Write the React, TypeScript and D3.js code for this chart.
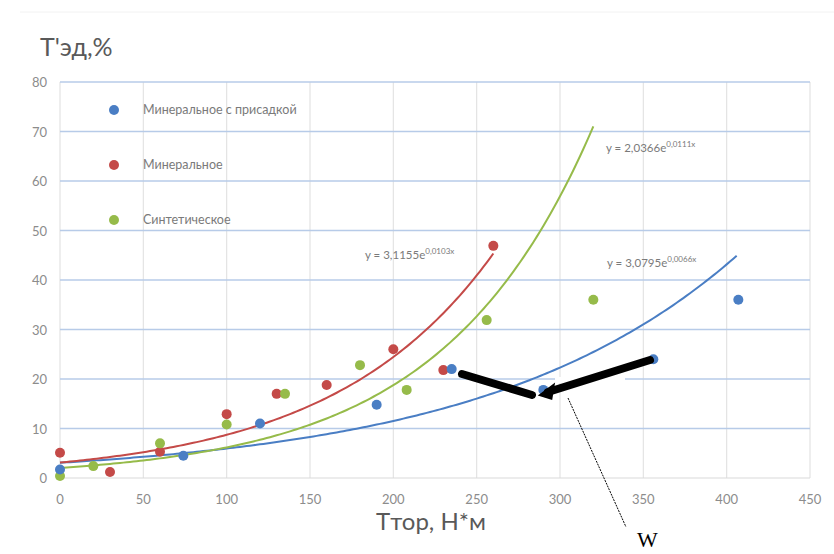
import * as React from "react";
import * as d3 from "d3";

// Минеральное с присадкой
const blueX = [0, 74, 120, 190, 235, 290, 356, 407];
const blueY = [1.7, 4.5, 11, 14.8, 22, 17.8, 24, 36];
// Минеральное
const redX = [0, 30, 60, 100, 130, 160, 200, 230, 260];
const redY = [5.1, 1.2, 5.3, 12.9, 17, 18.8, 26, 21.8, 46.9];
// Синтетическое
const greenX = [0, 20, 60, 100, 135, 180, 208, 256, 320];
const greenY = [0.4, 2.4, 7, 10.8, 17, 22.8, 17.8, 31.9, 36];

const seriesNames = ["Минеральное с присадкой", "Минеральное", "Синтетическое"];
const seriesColors = ["#4a7ec4", "#c44a48", "#96bb4a"];
// trend y = a * e^(b x)
const trendA = [3.0795, 3.1155, 2.0366];
const trendB = [0.0066, 0.0103, 0.0111];
const trendMaxX = [407, 260, 320];
const trendLabelA = ["3,0795", "3,1155", "2,0366"];
const trendLabelB = ["0,0066x", "0,0103x", "0,0111x"];

const xTicks = [0, 50, 100, 150, 200, 250, 300, 350, 400, 450];
const yTicks = [0, 10, 20, 30, 40, 50, 60, 70, 80];

export default function App() {
  const width = 834;
  const height = 554;
  const x = d3.scaleLinear().domain([0, 450]).range([60, 810]);
  const y = d3.scaleLinear().domain([0, 80]).range([478, 82]);

  const xs = [blueX, redX, greenX];
  const ys = [blueY, redY, greenY];

  const trendPath = (i: number) => {
    const pts = d3.range(0, trendMaxX[i] + 0.1, 2);
    return d3
      .line<number>()
      .x((d) => x(d))
      .y((d) => y(trendA[i] * Math.exp(trendB[i] * d)))(pts);
  };

  const labelPos = [
    { x: 607, y: 267 },
    { x: 365, y: 259 },
    { x: 606, y: 152 },
  ];

  const font = "Lato, 'Open Sans', sans-serif";

  return (
    <svg
      width={width}
      height={height}
      style={{ position: "absolute", left: 0, top: 0, background: "#fff" }}
      fontFamily={font}
    >
      <line x1={20} x2={834} y1={12} y2={12} stroke="#f2f2f2" />
      {/* vertical grid */}
      {xTicks.map((t) => (
        <line key={"vx" + t} x1={x(t)} x2={x(t)} y1={y(80)} y2={y(0)} stroke="#e3e3e3" strokeWidth={1.2} />
      ))}
      {/* horizontal grid */}
      {yTicks.map((t) => (
        <line
          key={"hy" + t}
          x1={x(0)}
          x2={x(450)}
          y1={y(t)}
          y2={y(t)}
          stroke={t === 0 ? "#d9d9d9" : "#b7cbe8"}
          strokeWidth={t === 0 ? 1.2 : 1.6}
        />
      ))}
      {yTicks.map((t) => (
        <text key={"yl" + t} x={47} y={y(t) + 5} textAnchor="end" fontSize={13} fill="#8c8c8c">
          {t}
        </text>
      ))}
      {xTicks.map((t) => (
        <text key={"xl" + t} x={x(t)} y={504} textAnchor="middle" fontSize={13} fill="#8c8c8c">
          {t}
        </text>
      ))}

      {/* trend lines */}
      {[0, 1, 2].map((i) => (
        <path key={"tr" + i} d={trendPath(i) || ""} fill="none" stroke={seriesColors[i]} strokeWidth={2} />
      ))}

      {/* points */}
      {[1, 2, 0].map((i) =>
        xs[i].map((v, j) => (
          <circle key={"p" + i + "-" + j} cx={x(v)} cy={y(ys[i][j])} r={5} fill={seriesColors[i]} />
        ))
      )}

      {/* trend labels */}
      {[0, 1, 2].map((i) => (
        <text key={"tl" + i} x={labelPos[i].x} y={labelPos[i].y} fontSize={11.5} fill="#7a7a7a">
          {"y = " + trendLabelA[i] + "e"}
          <tspan dy={-5} fontSize={8}>
            {trendLabelB[i]}
          </tspan>
        </text>
      ))}

      {/* legend */}
      {seriesNames.map((n, i) => (
        <g key={"lg" + i}>
          <circle cx={114} cy={110 + i * 55} r={5} fill={seriesColors[i]} />
          <text x={143} y={114 + i * 55} fontSize={12.5} fill="#7a7a7a">
            {n}
          </text>
        </g>
      ))}

      {/* titles */}
      <text x={40} y={56} fontSize={25} fill="#595959">
        T'эд,%
      </text>
      <text x={376} y={530} fontSize={24} fill="#595959">
        Tтор, Н*м
      </text>

      {/* annotation */}
      <rect x={555} y={377} width={70} height={6} fill="#fff" />
      <line x1={462} y1={374} x2={532} y2={395} stroke="#000" strokeWidth={8} strokeLinecap="round" />
      <line x1={548} y1={392} x2={650} y2={360} stroke="#000" strokeWidth={8} strokeLinecap="round" />
      <path d="M541,395 L553,386 L551,398 Z" fill="#000" stroke="#000" strokeWidth={3} />
      <line x1={568} y1={398} x2={626} y2={527} stroke="#000" strokeWidth={1} strokeDasharray="2,1" />
      <text x={637} y={547} fontSize={22} fontFamily="'Liberation Serif', serif" fill="#000">
        W
      </text>
    </svg>
  );
}
